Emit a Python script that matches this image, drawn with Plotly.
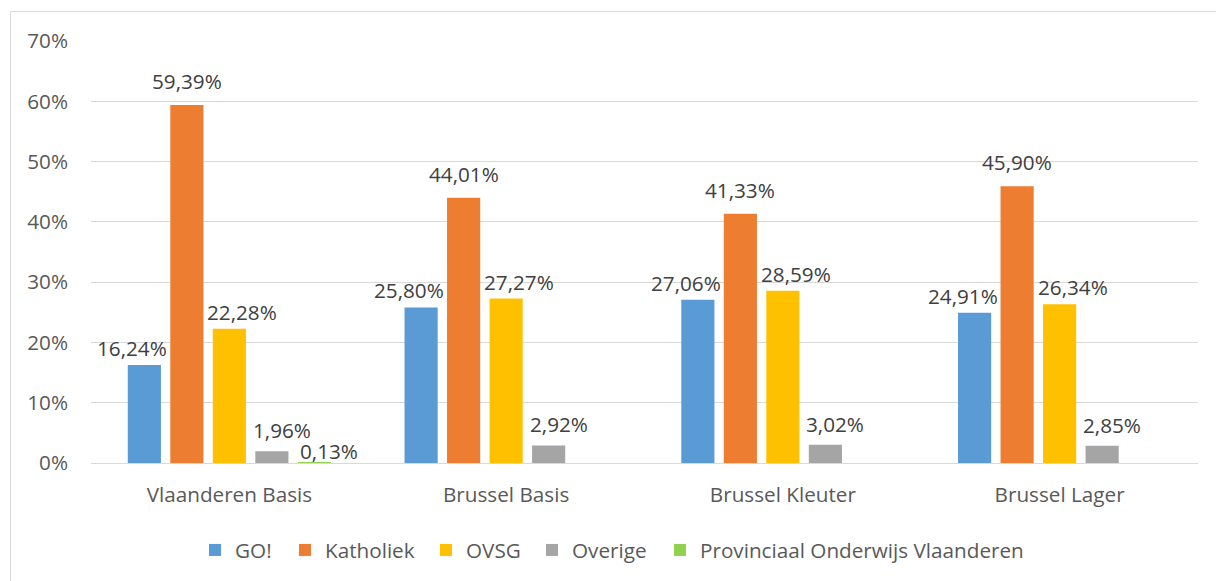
import plotly.graph_objects as go

categories = ["Vlaanderen Basis", "Brussel Basis", "Brussel Kleuter", "Brussel Lager"]
series_names = ["GO!", "Katholiek", "OVSG", "Overige", "Provinciaal Onderwijs Vlaanderen"]
go_vals = [16.24, 25.80, 27.06, 24.91]
katholiek_vals = [59.39, 44.01, 41.33, 45.90]
ovsg_vals = [22.28, 27.27, 28.59, 26.34]
overige_vals = [1.96, 2.92, 3.02, 2.85]
provinciaal_vals = [0.13, None, None, None]
y_ticks = [0, 10, 20, 30, 40, 50, 60, 70]

all_vals = [go_vals, katholiek_vals, ovsg_vals, overige_vals, provinciaal_vals]
colors = ["#5B9BD5", "#ED7D31", "#FFC000", "#A5A5A5", "#92D050"]
label_xshift = [-12, 0, 13, 10, 15]
label_yshift = [17, 24, 17, 21, 11]
legend_text_px = [237, 327, 468, 574, 702]   # where each legend entry's text starts

W, H = 1216, 581
ML, MR, MT, MB = 91, 18, 41, 117
BARGAP, GROUPGAP = 0.232, 0.22
FONT = "Open Sans"
FS = 20.7

def fmt(v):
    return f"{v:.2f}".replace(".", ",") + "%"

pw = W - ML - MR
ph = H - MT - MB

fig = go.Figure()
legend_layouts = {}
for i, (name, vals, col) in enumerate(zip(series_names, all_vals, colors)):
    lname = "legend" if i == 0 else f"legend{i + 1}"
    fig.add_trace(go.Bar(
        name=name, x=categories, y=vals, marker=dict(color=col, line=dict(width=0)),
        hoverinfo="skip", legend=lname,
    ))
    legend_layouts[lname] = dict(
        orientation="h", x=(legend_text_px[i] - 42 - ML) / pw, xanchor="left",
        y=(H - MB - 550) / ph, yanchor="middle", bgcolor="rgba(0,0,0,0)",
        font=dict(family=FONT, size=FS, color="#595959"), itemclick=False,
    )

annotations = []
nser = len(series_names)
slot = (1 - BARGAP) / nser
for i, vals in enumerate(all_vals):
    for ci, v in enumerate(vals):
        if v is None:
            continue
        annotations.append(dict(
            x=ci + (i - (nser - 1) / 2) * slot, y=v, xref="x", yref="y",
            text=fmt(v), showarrow=False, xanchor="center", yanchor="middle",
            xshift=label_xshift[i], yshift=label_yshift[i],
            font=dict(family=FONT, size=FS, color="#404040"),
        ))

fig.add_shape(type="rect", xref="paper", yref="paper",
              x0=(10.5 - ML) / pw, x1=(W + 20 - ML) / pw,
              y0=(H - MB - (H + 20)) / ph, y1=(H - MB - 11.5) / ph,
              line=dict(color="#D9D9D9", width=1), fillcolor="rgba(0,0,0,0)", layer="below")

fig.update_layout(
    width=W, height=H,
    margin=dict(l=ML, r=MR, t=MT, b=MB, pad=0),
    paper_bgcolor="white", plot_bgcolor="white",
    barmode="group", bargap=BARGAP, bargroupgap=GROUPGAP,
    font=dict(family=FONT, size=FS, color="#595959"),
    showlegend=True,
    annotations=annotations,
    xaxis=dict(type="category", showgrid=False, showline=True, linecolor="#D9D9D9",
               linewidth=1, ticks="", tickfont=dict(family=FONT, size=FS, color="#595959"),
               ticklabelstandoff=13),
    yaxis=dict(range=[0, 70], tickvals=y_ticks, ticktext=[f"{t}%" for t in y_ticks],
               showgrid=True, gridcolor="#D9D9D9", gridwidth=1, zeroline=False,
               showline=False, ticks="", tickfont=dict(family=FONT, size=FS, color="#595959"),
               ticklabelstandoff=22),
    **legend_layouts,
)

fig.write_html("out.html", config={"displayModeBar": False},
               post_script="document.body.style.margin='0';document.body.style.overflow='hidden';")
